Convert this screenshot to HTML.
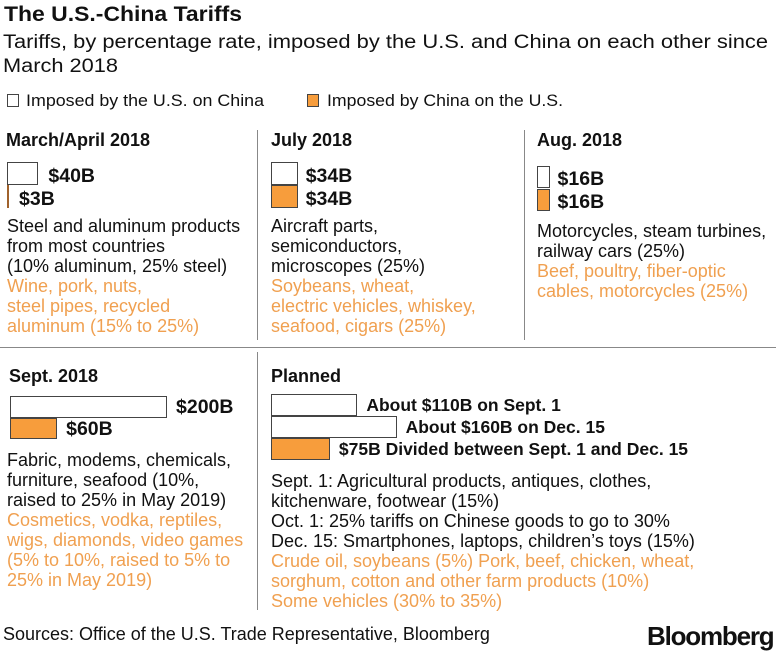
<!DOCTYPE html>
<html><head><meta charset="utf-8">
<style>
body{margin:0;width:782px;height:656px;background:#fff;position:relative;overflow:hidden;font-family:"Liberation Sans",sans-serif;color:#111}
.t{position:absolute;white-space:nowrap;line-height:20px}
.b{font-weight:bold}
.h{font-weight:bold;font-size:18px}
.h3{font-weight:bold;font-size:17.5px}
.h2{font-weight:bold;font-size:19.5px}
.x{font-size:18px}
.o{color:#f0a050}
.fit{transform-origin:0 50%;display:inline-block}
.bar{position:absolute;box-sizing:border-box;border:1.5px solid #444;background:#fff}
.bar.cn{background:#f79d3c}
.line{position:absolute;background:#888}
</style></head><body>
<div class="t b fit" data-w="238" style="left:4px;top:3px;font-size:21px;line-height:24px">The U.S.-China Tariffs</div>
<div class="t fit" data-w="765" style="left:3px;top:31px;font-size:19px;line-height:24px">Tariffs, by percentage rate, imposed by the U.S. and China on each other since</div>
<div class="t fit" data-w="115" style="left:3px;top:55px;font-size:19px;line-height:24px">March 2018</div>
<div>
<div class="bar" style="left:7px;top:94px;width:12px;height:13px;border-width:1px"></div>
<div class="t fit" data-w="238" style="left:26px;top:91px;font-size:17px">Imposed by the U.S. on China</div></div>
<div>
<div class="bar cn" style="left:307px;top:94px;width:12px;height:13px;border-width:1px"></div>
<div class="t fit" data-w="236" style="left:327px;top:91px;font-size:17px">Imposed by China on the U.S.</div></div>

<div class="line" style="left:257px;top:130px;width:1px;height:210px"></div>
<div class="line" style="left:524px;top:130px;width:1px;height:210px"></div>
<div class="line" style="left:0;top:347px;width:776px;height:1px"></div>
<div class="line" style="left:257px;top:352px;width:1px;height:258px"></div>

<div class="t h" style="left:6px;top:130px">March/April 2018</div>
<div class="t h" style="left:271px;top:130px">July 2018</div>
<div class="t h" style="left:537px;top:130px">Aug. 2018</div>
<div class="t h" style="left:9px;top:366px">Sept. 2018</div>
<div class="t h" style="left:271px;top:366px">Planned</div>

<div id="bars"></div>

<div class="t x" style="left:7px;top:216px">Steel and aluminum products<br>from most countries<br>(10% aluminum, 25% steel)<br><span class="o">Wine, pork, nuts,<br>steel pipes, recycled<br>aluminum (15% to 25%)</span></div>
<div class="t x" style="left:271px;top:216px">Aircraft parts,<br>semiconductors,<br>microscopes (25%)<br><span class="o">Soybeans, wheat,<br>electric vehicles, whiskey,<br>seafood, cigars (25%)</span></div>
<div class="t x" style="left:537px;top:221px">Motorcycles, steam turbines,<br>railway cars (25%)<br><span class="o">Beef, poultry, fiber-optic<br>cables, motorcycles (25%)</span></div>
<div class="t x" style="left:7px;top:450px">Fabric, modems, chemicals,<br>furniture, seafood (10%,<br>raised to 25% in May 2019)<br><span class="o">Cosmetics, vodka, reptiles,<br>wigs, diamonds, video games<br>(5% to 10%, raised to 5% to<br>25% in May 2019)</span></div>
<div class="t x" style="left:271px;top:471px">Sept. 1: Agricultural products, antiques, clothes,<br>kitchenware, footwear (15%)<br>Oct. 1: 25% tariffs on Chinese goods to go to 30%<br>Dec. 15: Smartphones, laptops, children’s toys (15%)<br><span class="o">Crude oil, soybeans (5%) Pork, beef, chicken, wheat,<br>sorghum, cotton and other farm products (10%)<br>Some vehicles (30% to 35%)</span></div>

<div class="t x" style="left:3px;top:624px">Sources: Office of the U.S. Trade Representative, Bloomberg</div>
<div class="t b" style="left:647px;top:622px;font-size:26px;letter-spacing:-1.2px;line-height:28px">Bloomberg</div>

<script>
const categories=["march","july","aug","sept","planned-sept1","planned-dec15","planned-china"];
const values=[40,3,34,34,16,16,200,60,110,160,75];
const labels=["$40B","$3B","$34B","$34B","$16B","$16B","$200B","$60B","About $110B on Sept. 1","About $160B on Dec. 15","$75B Divided between Sept. 1 and Dec. 15"];
const owners=["us","cn","us","cn","us","cn","us","cn","us","us","cn"];
const names=["bar-march-us","bar-march-china","bar-july-us","bar-july-china","bar-aug-us","bar-aug-china","bar-sept-us","bar-sept-china","bar-planned-sept1","bar-planned-dec15","bar-planned-china"];
const scale=0.785;
function w(v){return Math.max(2,v*scale);}
const slots=[[7,162,23],[7,185,23],[271,162,23],[271,185,23],[537,166,22],[537,189,22],[10,396,22],[10,418,21],[271,394,22],[271,416,22],[271,438,22]];
const c=document.getElementById('bars');
values.forEach((v,i)=>{
 const s=slots[i];
 const d=document.createElement('div');
 d.className='bar'+(owners[i]==='cn'?' cn':'');
 if(v<5){d.style.border='none';d.style.background='#a0622c';}
 d.style.left=s[0]+'px';d.style.top=s[1]+'px';d.style.width=w(v)+'px';d.style.height=s[2]+'px';
 
 
 c.appendChild(d);
 const t=document.createElement('div');
 t.className=i<8?'t h2':'t h3';
 const lx=i<6?s[0]+Math.max(w(values[i%2===0?i:i-1]),w(v))+(i<2?10:8):s[0]+w(v)+9;
 t.style.left=(i===1?s[0]+12:lx)+'px';
 t.style.top=(s[1]+s[2]/2-10+(i<6?2:0))+'px';
 t.textContent=labels[i];
 
 
 c.appendChild(t);
});
document.querySelectorAll('.fit').forEach(e=>{
 const tw=+e.dataset.w;const r=e.getBoundingClientRect().width;
 if(r>0)e.style.transform='scaleX('+(tw/r)+')';
});
</script>
</body></html>
